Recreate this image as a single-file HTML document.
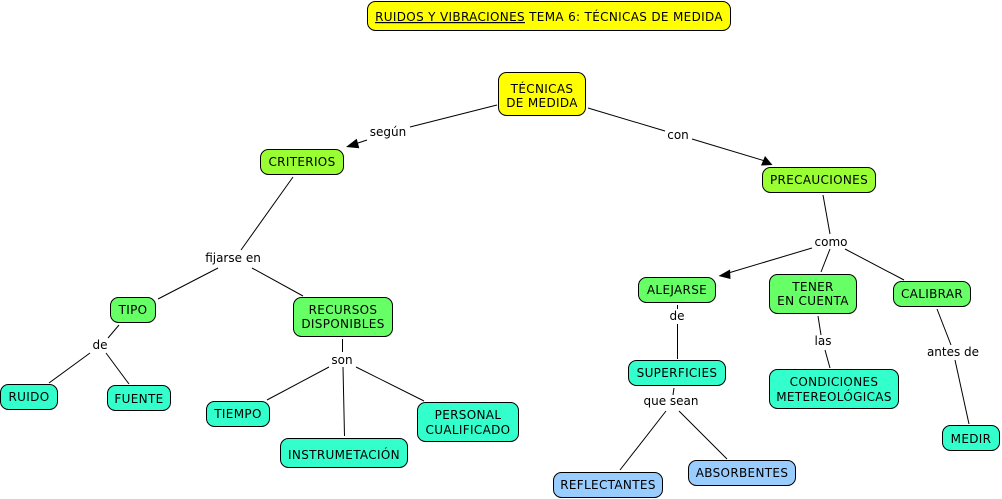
<!DOCTYPE html>
<html><head><meta charset="utf-8"><style>
html,body{margin:0;padding:0;background:#fff;width:1002px;height:499px;overflow:hidden}
svg{display:block}
text{font-family:"DejaVu Sans","Liberation Sans",sans-serif;font-size:12px;fill:#000;text-anchor:middle}
.n text{letter-spacing:.33px}
rect{stroke:#000;stroke-width:1;rx:8px;ry:8px}
line{stroke:#000;stroke-width:1}
</style></head><body>
<svg width="1002" height="499" viewBox="0 0 1002 499" xmlns="http://www.w3.org/2000/svg">
<g>
<line x1="497" y1="105" x2="410" y2="127"/><line x1="367" y1="140" x2="352" y2="145"/>
<line x1="588" y1="108" x2="665" y2="131"/><line x1="692" y1="139" x2="765" y2="161"/>
<line x1="293" y1="177" x2="241" y2="250"/><line x1="218" y1="268" x2="158" y2="299"/><line x1="252" y1="268" x2="303" y2="296"/>
<line x1="119" y1="325" x2="108" y2="338"/><line x1="90" y1="353" x2="49" y2="383"/><line x1="106" y1="353" x2="129" y2="384"/>
<line x1="342.5" y1="339" x2="342.5" y2="352"/><line x1="329" y1="367" x2="267" y2="400"/><line x1="343" y1="367" x2="344.5" y2="436"/><line x1="356" y1="367" x2="424" y2="401"/>
<line x1="823" y1="195" x2="830" y2="234"/><line x1="812" y1="248" x2="725" y2="274"/><line x1="830" y1="249" x2="821" y2="272"/><line x1="845" y1="249" x2="904" y2="280"/>
<line x1="677.5" y1="305" x2="677.5" y2="309"/><line x1="677.5" y1="324" x2="677.5" y2="359"/>
<line x1="818" y1="316" x2="821" y2="335"/><line x1="825" y1="350" x2="830" y2="368"/>
<line x1="674" y1="388" x2="673" y2="395"/><line x1="666" y1="411" x2="620" y2="470"/><line x1="679" y1="411" x2="727" y2="459"/>
<line x1="937" y1="309" x2="951" y2="345"/><line x1="955" y1="360" x2="969" y2="424"/>
<polygon points="346,147 356.7,138.7 359.3,148.3"/>
<polygon points="772.5,165 761,165.5 765,156"/>
<polygon points="718.5,276 730,269.5 730.5,279"/>
</g>
<g>
<rect x="367.5" y="1.5" width="363" height="29" fill="#ffff00"/>
<rect x="498.5" y="72.5" width="87" height="43" fill="#ffff00"/>
<rect x="260.5" y="149.5" width="83" height="25" fill="#99ff33"/>
<rect x="762.5" y="167.5" width="113" height="25" fill="#99ff33"/>
<rect x="110.5" y="297.5" width="45" height="25" fill="#66ff66"/>
<rect x="293.5" y="297.5" width="99" height="39" fill="#66ff66"/>
<rect x="638.5" y="277.5" width="77" height="25" fill="#66ff66"/>
<rect x="769.5" y="274.5" width="87" height="39" fill="#66ff66"/>
<rect x="893.5" y="281.5" width="77" height="25" fill="#66ff66"/>
<rect x="0.5" y="384.5" width="57" height="25" fill="#33ffcc"/>
<rect x="107.5" y="385.5" width="63" height="25" fill="#33ffcc"/>
<rect x="206.5" y="401.5" width="63" height="25" fill="#33ffcc"/>
<rect x="280.5" y="438.5" width="127" height="29" fill="#33ffcc"/>
<rect x="417.5" y="402.5" width="101" height="39" fill="#33ffcc"/>
<rect x="628.5" y="360.5" width="97" height="25" fill="#33ffcc"/>
<rect x="769.5" y="369.5" width="129" height="39" fill="#33ffcc"/>
<rect x="942.5" y="425.5" width="57" height="25" fill="#33ffcc"/>
<rect x="553.5" y="472.5" width="109" height="25" fill="#99ccff"/>
<rect x="688.5" y="460.5" width="107" height="25" fill="#99ccff"/>
</g>
<g class="n">
<text x="549" y="21"><tspan text-decoration="underline">RUIDOS Y VIBRACIONES</tspan> TEMA 6: TÉCNICAS DE MEDIDA</text>
<text x="542" y="93">TÉCNICAS</text><text x="542" y="107">DE MEDIDA</text>
<text x="302" y="166">CRITERIOS</text>
<text x="819" y="184">PRECAUCIONES</text>
<text x="133" y="314">TIPO</text>
<text x="343" y="314">RECURSOS</text><text x="343" y="328">DISPONIBLES</text>
<text x="29" y="401">RUIDO</text>
<text x="139" y="403">FUENTE</text>
<text x="238" y="418">TIEMPO</text>
<text x="344" y="459">INSTRUMETACIÓN</text>
<text x="468" y="419">PERSONAL</text><text x="468" y="434">CUALIFICADO</text>
<text x="677" y="294">ALEJARSE</text>
<text x="813" y="291">TENER</text><text x="813" y="305">EN CUENTA</text>
<text x="932" y="298">CALIBRAR</text>
<text x="677" y="377">SUPERFICIES</text>
<text x="834" y="386">CONDICIONES</text><text x="834" y="401">METEREOLÓGICAS</text>
<text x="971" y="443">MEDIR</text>
<text x="608" y="489">REFLECTANTES</text>
<text x="742" y="477">ABSORBENTES</text>
</g>
<g>
<text x="388" y="136">según</text>
<text x="678" y="139">con</text>
<text x="233" y="262">fijarse en</text>
<text x="100" y="349">de</text>
<text x="342" y="364">son</text>
<text x="831" y="246">como</text>
<text x="677" y="320">de</text>
<text x="823" y="345">las</text>
<text x="671" y="405">que sean</text>
<text x="953" y="356">antes de</text>
</g>
</svg>
</body></html>
